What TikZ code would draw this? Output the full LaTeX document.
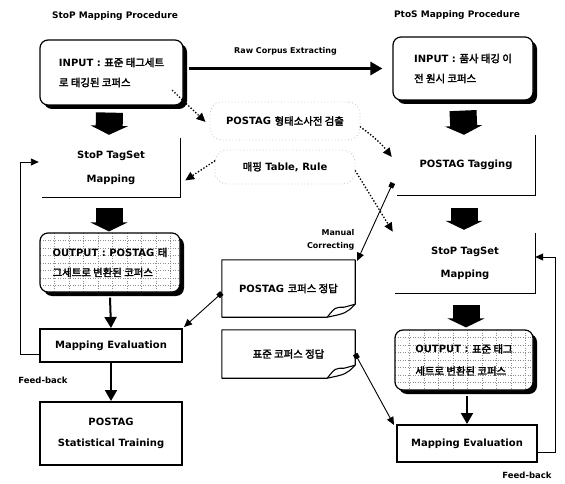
\documentclass[tikz,border=0pt]{standalone}
\usepackage{fontspec}
\setmainfont{DejaVu Sans}
\newfontfamily\krfont{Noto Sans CJK KR}[AutoFakeBold=2.5, Scale=1.04]
\newcommand\K[1]{{\krfont #1}}
\usetikzlibrary{arrows.meta,shadows,calc}

\tikzset{
  txt/.style={font=\bfseries\fontsize{10}{20}\selectfont},
  small/.style={font=\bfseries\fontsize{8}{13}\selectfont},
  title/.style={font=\bfseries\fontsize{9}{11}\selectfont},
  blackshadow/.style={drop shadow={shadow xshift=4pt, shadow yshift=-4pt, fill=black, opacity=1}},
  inbox/.style={txt, draw, line width=1.2pt, rounded corners=8pt, fill=white, blackshadow,
    align=left, inner sep=0pt},
  gridfill/.style={path picture={
    \foreach \k in {1,...,7}{
      \draw[black!45, dash pattern=on 1pt off 1.5pt, line width=0.5pt]
        ([yshift=-\k*7.5pt]path picture bounding box.north west) --
        ([yshift=-\k*7.5pt]path picture bounding box.north east);}
    \foreach \k in {1,...,9}{
      \draw[black!45, dash pattern=on 1pt off 1.5pt, line width=0.5pt]
        ([xshift=\k*14.5pt]path picture bounding box.north west) --
        ([xshift=\k*14.5pt]path picture bounding box.south west);}
  }},
  outbox/.style={inbox, gridfill},
  openbox/.style={txt, align=center, inner sep=0pt, font=\bfseries\fontsize{10}{24}\selectfont},
  edgeline/.style={line width=1.2pt},
  evalbox/.style={txt, draw, line width=2pt, fill=white, align=center, inner sep=0pt},
  docbox/.style={txt, inner sep=0pt},
  docline/.style={line width=1.1pt, line join=round},
  cloud/.style={txt, draw=gray!45, dash pattern=on 0.8pt off 2.5pt, line width=0.9pt,
    rounded corners=12pt, inner sep=0pt},
  blockarrow/.style={line width=27pt, -{Triangle[length=9pt,width=37pt]}},
  flowarrow/.style={line width=2pt, -{Triangle[length=11pt,width=12pt]}},
  rawarrow/.style={line width=3pt, -{Triangle[length=12pt,width=13pt]}},
  link/.style={line width=0.9pt, -{Triangle[length=8pt,width=7pt]}},
  sqlink/.style={line width=0.9pt, {Square[length=5pt,width=5pt]}-{Triangle[length=8pt,width=7pt]}},
  dotlink/.style={line width=1.9pt, line cap=round, dash pattern=on 0pt off 3.2pt,
    -{Triangle[length=9pt,width=8pt]}},
}

\begin{document}
\begin{tikzpicture}[x=1pt,y=-1pt]
\useasboundingbox (0,0) rectangle (565,484);

% titles
\node[title] (t1) at (115,16) {StoP Mapping Procedure};
\node[title] (t2) at (457,15) {PtoS Mapping Procedure};

% left column
\node[inbox, minimum width=143pt, minimum height=65pt] (in1) at (111.5,72.5)
  {INPUT : \K{표준 태그세트}\\\K{로 태깅된 코퍼스}};
\node[openbox, minimum width=138pt, minimum height=59pt] (sm1) at (111,167.5)
  {StoP TagSet\\Mapping};
\node[outbox, minimum width=140pt, minimum height=59pt] (out1) at (110,262.5)
  {OUTPUT : POSTAG \K{태}\\\K{그세트로 변환된 코퍼스}};
\node[evalbox, minimum width=142pt, minimum height=33pt] (ev1) at (111,345.5)
  {Mapping Evaluation};
\node[evalbox, minimum width=142pt, minimum height=63pt, font=\bfseries\fontsize{10}{21}\selectfont] (tr) at (111,433.5)
  {POSTAG\\Statistical Training};

% right column
\node[inbox, minimum width=140pt, minimum height=63pt] (in2) at (463,68.5)
  {INPUT : \K{품사 태깅 이}\\\K{전 원시 코퍼스}};
\node[openbox, minimum width=138pt, minimum height=60pt] (tg) at (466,165)
  {POSTAG Tagging};
\node[openbox, minimum width=140pt, minimum height=60pt, font=\bfseries\fontsize{10}{23}\selectfont] (sm2) at (465,263)
  {StoP TagSet\\Mapping};
\node[outbox, minimum width=138pt, minimum height=60pt, font=\bfseries\fontsize{10}{22}\selectfont] (out2) at (464,360)
  {OUTPUT : \K{표준 태그}\\\K{세트로 변환된 코퍼스}};
\node[evalbox, minimum width=140pt, minimum height=37pt] (ev2) at (467,443.5)
  {Mapping Evaluation};

% open boxes: right and bottom edges only
\draw[edgeline] (sm1.north east) -- (sm1.south east) -- (sm1.south west);
\draw[edgeline] (tg.north east) -- (tg.south east) -- (tg.south west);
\draw[edgeline] (sm2.north east) -- (sm2.south east) -- (sm2.south west);

% answer documents with curled corner
\node[docbox, minimum width=133pt, minimum height=57pt] (doc1) at (288.5,288.5) {POSTAG \K{코퍼스 정답}};
\node[docbox, minimum width=133pt, minimum height=48pt] (doc2) at (288.5,354) {\K{표준 코퍼스 정답}};
\foreach \d in {doc1,doc2}{
  \draw[docline] (\d.north west) -- (\d.north east) -- ([yshift=13pt]\d.south east)
    .. controls ([xshift=-9pt,yshift=4pt]\d.south east) .. ([xshift=-28pt]\d.south east)
    -- (\d.south west) -- cycle;
  \draw[docline] ([xshift=-28pt]\d.south east)
    .. controls ([xshift=-20pt,yshift=10pt]\d.south east) .. ([xshift=-11pt,yshift=10pt]\d.south east)
    -- ([yshift=13pt]\d.south east);
}

% shared resources
\node[cloud, minimum width=150pt, minimum height=38pt] (lab1) at (285,121) {POSTAG \K{형태소사전 검출}};
\node[cloud, minimum width=140pt, minimum height=34pt] (lab2) at (285,167) {\K{매핑} Table, Rule};

% main flow
\draw[rawarrow] ([xshift=5pt]in1.east |- in2.west) -- node[small, above=8pt] (raw) {Raw Corpus Extracting} ([xshift=-10pt]in2.west);
\draw[blockarrow] ([xshift=-2pt,yshift=-7pt]in1.south) -- ([xshift=-2pt,yshift=3pt]sm1.north);
\draw[blockarrow] ([xshift=-2pt,yshift=-11pt]sm1.south) -- ([xshift=-1pt,yshift=1pt]out1.north);
\draw[flowarrow] ([yshift=-5pt]out1.south) -- (ev1.north);
\draw[flowarrow] (ev1.south) -- (tr.north);

\draw[blockarrow] ([yshift=-10pt]in2.south) -- ([xshift=-2pt,yshift=0pt]tg.north);
\draw[blockarrow] ([xshift=-2pt,yshift=-13pt]tg.south) -- ([xshift=-1pt,yshift=3pt]sm2.north);
\draw[blockarrow] ([xshift=1pt,yshift=-12pt]sm2.south) -- ([xshift=2pt,yshift=2pt]out2.north);
\draw[flowarrow] ([xshift=3pt,yshift=-5pt]out2.south) -- ([xshift=0pt]ev2.north);

% resource links
\draw[dotlink] ([xshift=-11pt,yshift=15pt]in1.south east) -- ([xshift=-4pt,yshift=-1pt]lab1.west);
\draw[dotlink] ([yshift=-6pt]lab1.east) to[bend left=8] ([xshift=-5pt,yshift=8pt]tg.west);
\draw[dotlink] ([yshift=6pt]lab2.west) -- ([xshift=5pt,yshift=-13pt]sm1.east);
\draw[dotlink] ([yshift=-4pt]lab2.east) -- ([xshift=-2pt,yshift=1pt]sm2.north west);

% manual correcting and answer links
\draw[sqlink] ([xshift=-4pt,yshift=-18pt]tg.west) -- ([xshift=2pt,yshift=-1pt]doc1.north east);
\node[small, align=right, anchor=east] (mc) at (358,240) {Manual\\Correcting};
\draw[sqlink] ([yshift=-4.5pt]doc1.west) -- ([xshift=1pt,yshift=1pt]ev1.north east);
\draw[sqlink] ([yshift=0pt]doc2.east) -- ([xshift=-2pt,yshift=-1pt]ev2.north west);

% feedback loops
\coordinate (fbL) at (20,162);
\coordinate (fbR) at (555,257);
\draw[link] ([yshift=-8.5pt]ev1.west) -| (fbL) -- ([xshift=-3pt]fbL -| sm1.west);
\draw[link] ([yshift=-8.5pt]ev2.east) -| (fbR) -- (fbR -| sm2.east);
\node[small, font=\bfseries\fontsize{8.5}{10}\selectfont] (fb1) at (43,380) {Feed-back};
\node[small, font=\bfseries\fontsize{8.5}{10}\selectfont] (fb2) at (527,475) {Feed-back};
\end{tikzpicture}
\end{document}
